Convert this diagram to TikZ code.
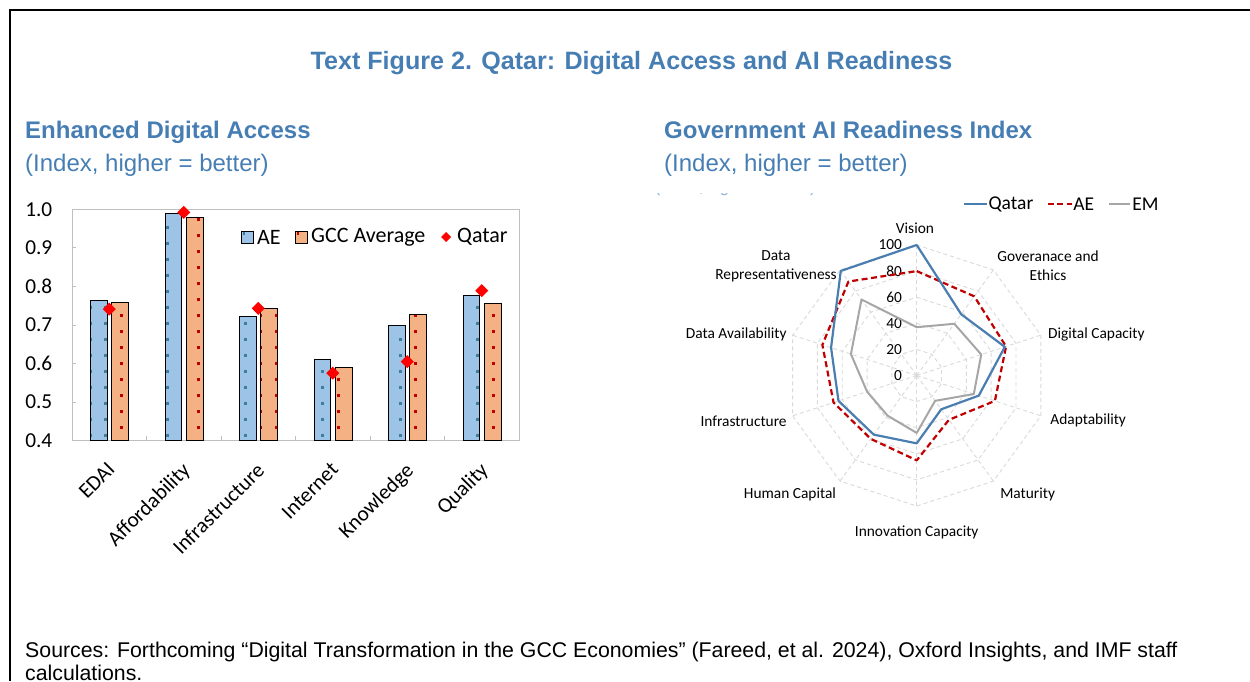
\documentclass[tikz,border=0pt]{standalone}
\usepackage{fontspec}
\setmainfont{Carlito}
\newfontfamily\arialf{Liberation Sans}
\usetikzlibrary{calc}

\definecolor{imfblue}{RGB}{70,126,180}
\definecolor{fadeblue}{RGB}{140,175,215}
\definecolor{aefill}{RGB}{157,195,230}
\definecolor{aedot}{RGB}{60,125,160}
\definecolor{gccfill}{RGB}{244,177,131}
\definecolor{gccdot}{RGB}{192,0,0}
\definecolor{qatred}{RGB}{255,0,0}
\definecolor{qatline}{RGB}{74,126,176}
\definecolor{emgray}{RGB}{166,166,166}
\definecolor{gridgray}{RGB}{217,217,217}
\definecolor{axisgray}{RGB}{191,191,191}

% bar with the dotted fill: left, right, top, fill, dot colour, dot row offset
\newcommand{\dotbar}[6]{%
  \fill[#4] (#1,240.3) rectangle (#2,#3);
  \begin{scope}
    \clip (#1,240.3) rectangle (#2,#3);
    \pgfmathtruncatemacro{\ka}{floor((#1-12.7)/15.5)}
    \foreach \kk in {0,1,2}
      \foreach \nn in {14,...,29}
        \fill[#5] ({12.7+15.5*(\ka+\kk)-1.5},{#6+16*\nn-1.5}) rectangle +(3,3);
  \end{scope}
  \draw[line width=0.9pt] (#1,240.3) rectangle (#2,#3);
}

\begin{document}
\begin{tikzpicture}[x=1pt, y=1pt,
  barlbl/.style={font=\fontsize{21.3}{25}\selectfont, inner sep=0pt},
  radlbl/.style={font=\fontsize{15.4}{18.4}\selectfont, inner sep=0pt, align=center},
  lgdlbl/.style={font=\fontsize{19.5}{23}\selectfont, inner sep=0pt, anchor=west},
  headtxt/.style={font=\arialf\bfseries\fontsize{24}{28}\selectfont, text=imfblue, inner sep=0pt, anchor=base west},
  subtxt/.style={font=\arialf\fontsize{24}{28}\selectfont, text=imfblue, inner sep=0pt, anchor=base west},
  radgrid/.style={gridgray, line width=0.9pt, dash pattern=on 4pt off 3pt},
  qatser/.style={qatline, line width=2.2pt, line join=round},
  aeser/.style={gccdot, line width=2.2pt, dash pattern=on 6pt off 3.5pt, line join=round},
  emser/.style={emgray, line width=2pt, line join=round}]
	\useasboundingbox (0,0) rectangle (1250,681);
	\draw[line width=2pt] (10,0) -- (10,671) -- (1250,671);

	\node[font=\arialf\bfseries\fontsize{25.1}{29}\selectfont, text=imfblue, inner sep=0pt, anchor=base] (title) at (631.5,611.5) {Text Figure 2. Qatar: Digital Access and AI Readiness};
	\node[headtxt] (lhead) at (25,542.5) {Enhanced Digital Access};
	\node[subtxt] (lsub) at (25,509.5) {(Index, higher = better)};
	\node[headtxt] (rhead) at (664,542.5) {Government AI Readiness Index};
	\node[subtxt] (rsub) at (664,509.5) {(Index, higher = better)};
	\begin{scope}
		\clip (640,470) rectangle (840,487.5);
		\node[font=\arialf\fontsize{15.8}{19}\selectfont, text=fadeblue, inner sep=0pt, anchor=base west] (rsubcut) at (655,488) {(Index, higher = better)};
	\end{scope}

	% left chart: bars
	\draw[axisgray, line width=0.9pt] (72,240.3) rectangle (519,471.7);
	\foreach \i in {1,...,5}
		\draw[axisgray, line width=0.9pt] (72+74.5*\i,240.3) -- ++(0,5);
	\foreach \v [count=\i] in {0.4,0.5,0.6,0.7,0.8,0.9,1.0} {
		\pgfmathsetmacro\yy{240.3+(\v-0.4)*385.7}
		\draw[axisgray, line width=0.9pt] (72,\yy) -- ++(4,0);
		\node[barlbl, anchor=east] (yl\i) at (52.5,\yy) {\v};
	}
	\foreach \cat/\ae/\gcc/\qat [count=\k from 0] in {EDAI/0.763/0.759/0.741, Affordability/0.989/0.978/0.992, Infrastructure/0.721/0.743/0.743, Internet/0.611/0.589/0.575, Knowledge/0.698/0.728/0.605, Quality/0.777/0.756/0.789} {
		\pgfmathsetmacro\cx{72+74.5*(\k+0.5)}
		\pgfmathsetmacro\ya{240.3+(\ae-0.4)*385.7}
		\pgfmathsetmacro\yg{240.3+(\gcc-0.4)*385.7}
		\pgfmathsetmacro\yq{240.3+(\qat-0.4)*385.7}
		\pgfmathsetmacro\xa{\cx-18.5}
		\pgfmathsetmacro\xb{\cx-2}
		\pgfmathsetmacro\xc{\cx+2.5}
		\pgfmathsetmacro\xd{\cx+19.5}
		\dotbar{\xa}{\xb}{\ya}{aefill}{aedot}{5.7}
		\dotbar{\xc}{\xd}{\yg}{gccfill}{gccdot}{13.7}
		\fill[qatred] (\cx,\yq) +(-6.5,0) -- +(0,6.5) -- +(6.5,0) -- +(0,-6.5) -- cycle;
		\node[barlbl, rotate=45, anchor=north east] (cat\k) at (\cx-3,220) {\cat};
	}

	% left chart: legend
	\fill[aefill] (241,438) rectangle (253,450);
	\fill[aedot] (242.5,446) rectangle +(2.5,2.5);
	\draw[line width=0.9pt] (241,438) rectangle (253,450);
	\node[lgdlbl, font=\fontsize{22}{26}\selectfont] (lgae) at (257,444) {AE};
	\fill[gccfill] (295,438) rectangle (307,450);
	\fill[gccdot] (296.5,446) rectangle +(2.5,2.5);
	\draw[line width=0.9pt] (295,438) rectangle (307,450);
	\node[lgdlbl, font=\fontsize{22}{26}\selectfont] (lggcc) at (311,444) {GCC Average};
	\fill[qatred] (446,444) +(-5,0) -- +(0,5) -- +(5,0) -- +(0,-5) -- cycle;
	\node[lgdlbl, font=\fontsize{22}{26}\selectfont] (lgqat) at (457,444) {Qatar};

	% right chart: radar
	\coordinate (rc) at (916.7,305.5);
	\begin{scope}[shift={(rc)}]
		\foreach \r in {20,40,60,80,100}
			\draw[radgrid] (90:{\r*1.305}) \foreach \i in {1,...,9} { -- ({90-36*\i}:{\r*1.305}) } -- cycle;
		\foreach \i in {0,...,9}
			\draw[radgrid] (0,0) -- ({90-36*\i}:130.5);
		\foreach \t in {0,20,...,100}
			\node[radlbl, anchor=east] (rt\t) at (-14.5,{\t*1.305}) {\t};

		\draw[emser] (90:{37*1.305}) \foreach \v [count=\i] in {49,52,46,24,44,38,40,53,72} { -- ({90-36*\i}:{\v*1.305}) } -- cycle;
		\draw[aeser] (90:{80*1.305}) \foreach \v [count=\i] in {75,72,63,42,65,60,67,76,89} { -- ({90-36*\i}:{\v*1.305}) } -- cycle;
		\draw[qatser] (90:{100*1.305}) \foreach \v [count=\i] in {58,71,50,32,52,56,63,69,99} { -- ({90-36*\i}:{\v*1.305}) } -- cycle;

		\node[radlbl] (ax0) at (-1.7,147.5) {Vision};
		\node[radlbl] (ax1) at (131.3,109.6) {Goveranace and\\Ethics};
		\node[radlbl, anchor=west] (ax2) at (131.3,41.2) {Digital Capacity};
		\node[radlbl, anchor=west] (ax3) at (133.5,-44.5) {Adaptability};
		\node[radlbl, anchor=west] (ax4) at (83.4,-118.6) {Maturity};
		\node[radlbl] (ax5) at (0,-156.7) {Innovation Capacity};
		\node[radlbl, anchor=east] (ax6) at (-80.5,-118.6) {Human Capital};
		\node[radlbl, anchor=east] (ax7) at (-129.9,-45.6) {Infrastructure};
		\node[radlbl, anchor=east] (ax8) at (-130,41.2) {Data Availability};
		\node[radlbl] (ax9) at (-140.7,109.3) {Data\\Representativeness};
	\end{scope}

	% right chart: legend
	\coordinate (lq) at (964.3,476.7);
	\coordinate (la) at (1047.7,476.7);
	\coordinate (le) at (1109,476.7);
	\draw[qatser] (lq) -- ++(22.2,0) node[lgdlbl, text=black, right=1pt] (lgq) {Qatar};
	\draw[aeser] (la) -- ++(24,0) node[lgdlbl, text=black, right=0.5pt] (lga) {AE};
	\draw[emser] (le) -- ++(21.3,0) node[lgdlbl, text=black, right=1pt] (lge) {EM};

	\node[font=\arialf\fontsize{21.3}{23}\selectfont, inner sep=0pt, anchor=north west, align=left] (src) at (25,39) {Sources: Forthcoming “Digital Transformation in the GCC Economies” (Fareed, et al. 2024), Oxford Insights, and IMF staff\\calculations.};
\end{tikzpicture}
\end{document}
